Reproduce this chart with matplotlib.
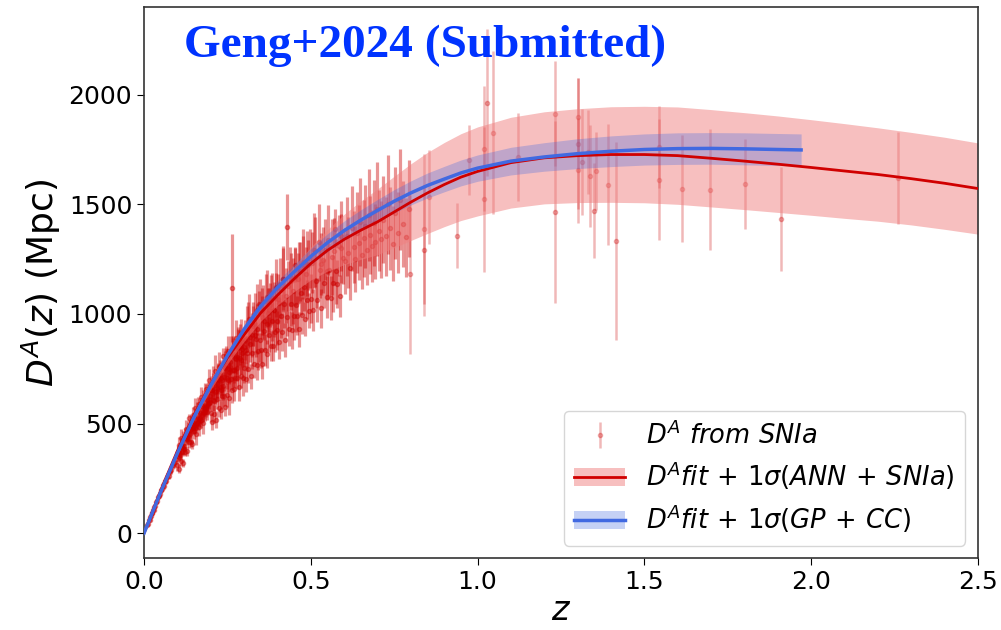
import matplotlib.pyplot as plt

# SNIa angular diameter distances, dense low-z part
z_dense = [
    # z < 0.1
    0.010, 0.012, 0.015, 0.017, 0.019, 0.021, 0.023, 0.025, 0.027, 0.029,
    0.031, 0.034, 0.037, 0.040, 0.043, 0.046, 0.049, 0.052, 0.055, 0.058,
    0.061, 0.064, 0.067, 0.070, 0.074, 0.078, 0.082, 0.086, 0.090, 0.095,
    # 0.1 - 0.2
    0.100, 0.102, 0.104, 0.106, 0.108, 0.110, 0.112, 0.114, 0.116, 0.118,
    0.120, 0.122, 0.124, 0.126, 0.128, 0.130, 0.132, 0.134, 0.136, 0.138,
    0.140, 0.142, 0.144, 0.146, 0.148, 0.150, 0.152, 0.154, 0.156, 0.158,
    0.160, 0.162, 0.164, 0.166, 0.168, 0.170, 0.172, 0.174, 0.176, 0.178,
    0.180, 0.182, 0.184, 0.186, 0.188, 0.190, 0.192, 0.194, 0.196, 0.198,
    0.101, 0.105, 0.109, 0.113, 0.117, 0.121, 0.125, 0.129, 0.133, 0.137,
    0.141, 0.145, 0.149, 0.153, 0.157, 0.161, 0.165, 0.169, 0.173, 0.177,
    0.181, 0.185, 0.189, 0.193, 0.197,
    # 0.2 - 0.3
    0.200, 0.202, 0.204, 0.206, 0.208, 0.210, 0.212, 0.214, 0.216, 0.218,
    0.220, 0.222, 0.224, 0.226, 0.228, 0.230, 0.232, 0.234, 0.236, 0.238,
    0.240, 0.242, 0.244, 0.246, 0.248, 0.250, 0.252, 0.254, 0.256, 0.258,
    0.260, 0.262, 0.264, 0.266, 0.268, 0.270, 0.272, 0.274, 0.276, 0.278,
    0.280, 0.282, 0.284, 0.286, 0.288, 0.290, 0.292, 0.294, 0.296, 0.298,
    0.203, 0.207, 0.211, 0.215, 0.219, 0.223, 0.227, 0.231, 0.235, 0.239,
    0.243, 0.247, 0.251, 0.255, 0.259, 0.263, 0.267, 0.271, 0.275, 0.279,
    0.283, 0.287, 0.291, 0.295, 0.299,
    # 0.3 - 0.4
    0.3000, 0.3025, 0.3050, 0.3075, 0.3100, 0.3125, 0.3150, 0.3175, 0.3200,
    0.3225, 0.3250, 0.3275, 0.3300, 0.3325, 0.3350, 0.3375, 0.3400, 0.3425,
    0.3450, 0.3475, 0.3500, 0.3525, 0.3550, 0.3575, 0.3600, 0.3625, 0.3650,
    0.3675, 0.3700, 0.3725, 0.3750, 0.3775, 0.3800, 0.3825, 0.3850, 0.3875,
    0.3900, 0.3925, 0.3950, 0.3975,
    0.306, 0.312, 0.319, 0.326, 0.333, 0.340, 0.347, 0.354, 0.361, 0.368,
    0.375, 0.382, 0.389, 0.396,
    # 0.4 - 0.5
    0.400, 0.403, 0.406, 0.409, 0.412, 0.415, 0.418, 0.421, 0.424, 0.427,
    0.430, 0.433, 0.436, 0.439, 0.442, 0.445, 0.448, 0.451, 0.454, 0.457,
    0.460, 0.463, 0.466, 0.469, 0.472, 0.475, 0.478, 0.481, 0.484, 0.487,
    0.490, 0.493, 0.496, 0.499,
    0.405, 0.417, 0.428, 0.440, 0.452, 0.464, 0.476, 0.488,
    # 0.5 - 0.6
    0.500, 0.504, 0.508, 0.512, 0.516, 0.520, 0.524, 0.528, 0.532, 0.536,
    0.540, 0.544, 0.548, 0.552, 0.556, 0.560, 0.564, 0.568, 0.572, 0.576,
    0.580, 0.584, 0.588, 0.592, 0.596,
    0.510, 0.530, 0.550, 0.570, 0.590,
    # 0.6 - 0.8
    0.603, 0.608, 0.613, 0.618, 0.623, 0.628, 0.633, 0.638, 0.643, 0.648,
    0.653, 0.658, 0.663, 0.668, 0.673, 0.678, 0.683, 0.688, 0.693, 0.698,
    0.703, 0.710, 0.717, 0.724, 0.731, 0.738, 0.745, 0.752, 0.760, 0.768,
    0.776, 0.785, 0.794,
]
da_dense = [
    38, 44, 58, 62, 74, 77, 90, 92, 104, 106,
    118, 124, 141, 145, 163, 170, 178, 196, 200, 218,
    215, 238, 240, 258, 262, 285, 290, 312, 318, 338,
    310, 372, 294, 400, 357, 329, 436, 393, 319, 431,
    383, 449, 371, 477, 429, 375, 466, 418, 524, 451,
    417, 509, 405, 537, 478, 465, 571, 516, 452, 562,
    503, 564, 484, 590, 546, 516, 622, 578, 503, 614,
    565, 630, 551, 656, 607, 552, 643, 593, 699, 624,
    371, 349, 366, 372, 388, 398, 432, 445, 452, 470,
    476, 492, 488, 481, 497, 505, 519, 526, 538, 547,
    558, 570, 578, 589, 600,
    550, 655, 509, 694, 609, 544, 739, 643, 518, 683,
    613, 718, 572, 757, 667, 562, 707, 626, 806, 671,
    626, 756, 575, 785, 710, 630, 829, 733, 618, 782,
    701, 815, 654, 844, 743, 657, 801, 710, 890, 754,
    708, 847, 666, 881, 800, 719, 908, 822, 707, 871,
    655, 670, 602, 650, 662, 705, 720, 652, 700, 712,
    755, 768, 700, 748, 760, 1119, 815, 745, 795, 805,
    850, 860, 790, 840, 848,
    755, 880, 705, 930, 820, 750, 975, 865, 715,
    905, 820, 945, 770, 990, 885, 765, 930, 830,
    1045, 880, 835, 984, 773, 1017, 921, 835, 1059,
    953, 817, 1006, 905, 1039, 853, 1072, 966, 855,
    1019, 918, 1122, 966,
    835, 950, 895, 955, 905, 1020, 1040, 1012, 968, 1075,
    1018, 1065, 1018, 1120,
    925, 1069, 874, 1118, 992, 917, 1161, 1045, 880, 1084,
    988, 1128, 932, 1171, 1046, 925, 1104, 989, 1223, 1042,
    992, 1161, 930, 1195, 1094, 993, 1238, 1122, 976, 1181,
    1065, 1224, 1014, 1253,
    1050, 1160, 1397, 1150, 1170, 1190, 1210, 1228,
    1070, 1234, 1019, 1283, 1148, 1062, 1326, 1201, 1025, 1245,
    1139, 1293, 1078, 1337, 1202, 1071, 1260, 1140, 1389, 1194,
    1138, 1312, 1082, 1356, 1256,
    1290, 1228, 1195, 1285, 1300,
    1240, 1355, 1280, 1210, 1390, 1305, 1250, 1370, 1325, 1420,
    1270, 1345, 1400, 1290, 1450, 1360, 1310, 1415, 1330, 1480,
    1380, 1340, 1430, 1355, 1500, 1390, 1320, 1460, 1370, 1520,
    1410, 1350, 1480,
]
err_dense = [
    3, 3, 4, 4, 5, 5, 6, 6, 7, 7,
    8, 8, 9, 10, 10, 11, 12, 12, 13, 14,
    14, 15, 16, 16, 17, 18, 19, 20, 21, 22,
    25, 32, 20, 38, 27, 22, 40, 30, 18, 35,
    25, 32, 20, 38, 27, 22, 40, 30, 18, 35,
    25, 32, 20, 38, 27, 35, 45, 28, 50, 38,
    30, 55, 40, 26, 48, 35, 45, 28, 50, 38,
    30, 55, 40, 26, 48, 35, 45, 28, 50, 38,
    22, 20, 24, 22, 25, 24, 29, 33, 30, 36,
    31, 38, 33, 30, 32, 33, 34, 35, 36, 37,
    38, 40, 41, 42, 44,
    45, 60, 40, 70, 52, 42, 75, 55, 38, 65,
    45, 60, 40, 70, 52, 42, 75, 55, 38, 65,
    45, 60, 40, 70, 52, 55, 70, 48, 80, 60,
    50, 85, 62, 45, 75, 55, 70, 48, 80, 60,
    50, 85, 62, 45, 75, 55, 70, 48, 80, 60,
    55, 60, 44, 52, 54, 68, 70, 50, 60, 62,
    76, 78, 55, 68, 70, 245, 85, 60, 76, 78,
    90, 92, 66, 84, 86,
    70, 90, 60, 105, 80, 65, 115, 85, 58,
    100, 70, 90, 60, 105, 80, 65, 115, 85,
    58, 100, 80, 100, 68, 115, 88, 72, 125,
    92, 65, 110, 80, 100, 68, 115, 88, 72,
    125, 92, 65, 110,
    65, 105, 82, 100, 78, 118, 120, 108, 86, 125,
    100, 114, 92, 132,
    90, 115, 80, 135, 100, 85, 150, 110, 78, 125,
    90, 115, 80, 135, 100, 85, 150, 110, 78, 125,
    90, 115, 80, 135, 100, 85, 150, 110, 78, 125,
    90, 115, 80, 135,
    96, 140, 150, 130, 136, 140, 144, 148,
    110, 140, 95, 160, 120, 100, 175, 130, 90, 150,
    110, 140, 95, 160, 120, 100, 175, 130, 90, 150,
    110, 140, 95, 160, 120,
    170, 142, 132, 154, 158,
    150, 180, 160, 145, 195, 165, 150, 185, 170, 200,
    155, 175, 190, 160, 210, 180, 165, 195, 170, 215,
    185, 175, 200, 180, 225, 190, 170, 210, 185, 230,
    195, 180, 220,
]

# SNIa, sparse high-z part
z_hi = [0.797, 0.840, 0.840, 0.855, 0.937, 0.975, 1.020, 1.020, 1.027, 1.047,
        1.120, 1.232, 1.232, 1.300, 1.302, 1.302, 1.314, 1.332, 1.337, 1.350,
        1.355, 1.391, 1.416, 1.544, 1.544, 1.614, 1.697, 1.802, 1.911, 2.261]
da_hi = [1180, 1386, 1290, 1534, 1356, 1704, 1754, 1523, 1964, 1827,
         1716, 1914, 1465, 1777, 1896, 1655, 1693, 1739, 1628, 1470,
         1651, 1590, 1331, 1762, 1613, 1572, 1567, 1593, 1432, 1619]
err_hi = [361, 342, 300, 214, 148, 160, 285, 330, 337, 373,
          200, 240, 415, 300, 180, 240, 243, 190, 232, 217,
          179, 275, 452, 186, 274, 243, 275, 207, 237, 211]

# ANN + SNIa reconstruction
z_ann = [0.0, 0.05, 0.1, 0.15, 0.2, 0.25, 0.3, 0.35, 0.4, 0.45, 0.5, 0.55,
         0.6, 0.65, 0.7, 0.75, 0.8, 0.85, 0.9, 0.95, 1.0, 1.1, 1.2, 1.3, 1.4,
         1.5, 1.6, 1.7, 1.8, 1.9, 2.0, 2.1, 2.2, 2.3, 2.4, 2.5]
da_ann = [0, 195, 375, 540, 680, 800, 905, 1005, 1085, 1160, 1230, 1290,
          1340, 1382, 1420, 1465, 1510, 1552, 1590, 1624, 1650, 1690, 1712,
          1722, 1727, 1727, 1722, 1710, 1697, 1683, 1668, 1652, 1636, 1617,
          1596, 1572]
sig_ann = [0, 8, 15, 20, 25, 28, 30, 38, 45, 58, 75, 95, 115, 133, 150, 163,
           175, 185, 192, 198, 203, 207, 210, 214, 218, 220, 222, 222, 221,
           220, 218, 216, 213, 211, 210, 208]

# GP + CC reconstruction
z_gp = [0.0, 0.05, 0.1, 0.15, 0.2, 0.25, 0.3, 0.35, 0.4, 0.45, 0.5, 0.55,
        0.6, 0.65, 0.7, 0.75, 0.8, 0.85, 0.9, 0.95, 1.0, 1.1, 1.2, 1.3, 1.4,
        1.5, 1.6, 1.7, 1.8, 1.9, 1.97]
da_gp = [0, 188, 365, 530, 675, 810, 930, 1035, 1120, 1192, 1262, 1325,
         1380, 1428, 1472, 1514, 1552, 1586, 1615, 1643, 1665, 1697, 1716,
         1731, 1742, 1750, 1754, 1755, 1753, 1750, 1748]
sig_gp = [0, 4, 8, 12, 15, 19, 22, 26, 30, 33, 37, 41, 44, 47, 50, 53, 55, 57,
          58, 59, 60, 63, 65, 68, 70, 71, 72, 72, 73, 73, 73]

fig = plt.figure(figsize=(10.01, 6.30), dpi=100)
ax = fig.add_axes([0.1439, 0.1137, 0.833, 0.8752])

ax.errorbar(z_dense, da_dense, yerr=err_dense, fmt='o', color='#cc0000',
            ms=3, elinewidth=2.3, alpha=0.42, zorder=1)
h_data = ax.errorbar(z_hi, da_hi, yerr=err_hi, fmt='o', color='#cc0000',
                     ms=3, elinewidth=1.8, alpha=0.28, zorder=1)

lo_ann = [d - s for d, s in zip(da_ann, sig_ann)]
hi_ann = [d + s for d, s in zip(da_ann, sig_ann)]
f_red = ax.fill_between(z_ann, lo_ann, hi_ann, color='lightcoral', alpha=0.5,
                        lw=0, zorder=2)
lo_gp = [d - s for d, s in zip(da_gp, sig_gp)]
hi_gp = [d + s for d, s in zip(da_gp, sig_gp)]
f_blue = ax.fill_between(z_gp, lo_gp, hi_gp, color='royalblue', alpha=0.3,
                         lw=0, zorder=3)
l_red, = ax.plot(z_ann, da_ann, color='#d00000', lw=2, zorder=4)
l_blue, = ax.plot(z_gp, da_gp, color='royalblue', lw=2.5, zorder=5)

ax.text(0.337, 0.93, 'Geng+2024 (Submitted)', transform=ax.transAxes,
        ha='center', va='center', fontsize=34, fontweight='bold',
        family='Liberation Serif', color='#0033ff')

ax.set_xlim(0, 2.5)
ax.set_ylim(-115, 2400)
ax.set_xticks([0.0, 0.5, 1.0, 1.5, 2.0, 2.5])
ax.set_yticks([0, 500, 1000, 1500, 2000])
ax.tick_params(labelsize=18, length=5)
ax.set_xlabel('$z$', fontsize=24, labelpad=0)
ax.set_ylabel('$D^A(z)$ (Mpc)', fontsize=26)
for s in ax.spines.values():
    s.set_linewidth(1.2)
    s.set_color('#333333')

ax.legend([h_data, (f_red, l_red), (f_blue, l_blue)],
          [r'$D^A\ from\ SNIa$', r'$D^A fit\,+\,1\sigma (ANN\,+\,SNIa)$',
           r'$D^A fit\,+\,1\sigma (GP\,+\,CC)$'],
          loc='lower right', fontsize=18.5, labelspacing=0.4)

fig.savefig('out.png', dpi=100)
